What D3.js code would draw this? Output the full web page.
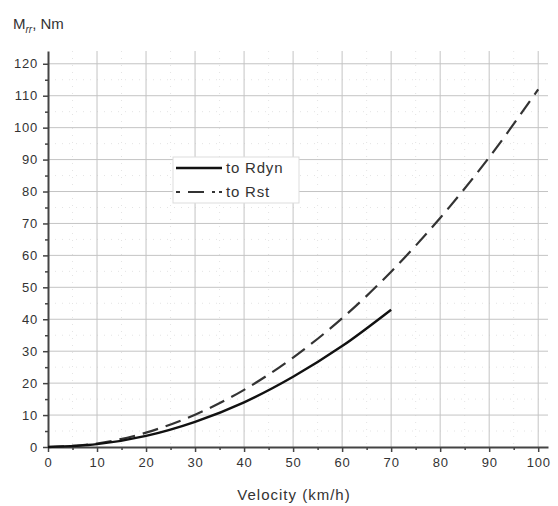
<!DOCTYPE html>
<html>
<head>
<meta charset="utf-8">
<script src="https://cdn.jsdelivr.net/npm/d3@7"></script>
<style>
  body { margin: 0; background: #fff; }
  svg text { font-family: "Liberation Sans", Arial, sans-serif; fill: #333; }
</style>
</head>
<body>
<div id="chart"></div>
<script>
// data
var speedDyn = [0, 10, 20, 30, 40, 50, 60, 70];
var torqueDyn = [0, 0.9, 3.5, 7.9, 14, 22, 31.6, 43];
var speedSt = [0, 10, 20, 30, 40, 50, 60, 70, 80, 90, 100];
var torqueSt = [0, 1.1, 4.5, 10.1, 17.9, 28, 40.3, 54.9, 71.7, 90.7, 112];
var xTicks = [0, 10, 20, 30, 40, 50, 60, 70, 80, 90, 100];
var yTicks = [0, 10, 20, 30, 40, 50, 60, 70, 80, 90, 100, 110, 120];
var seriesNames = ['to Rdyn', 'to Rst'];

var width = 558, height = 506;
var plotLeft = 48, plotRight = 548, plotTop = 51, plotBottom = 447;

var x = d3.scaleLinear().domain([0, 102]).range([plotLeft, plotRight]);
var y = d3.scaleLinear().domain([0, 124]).range([plotBottom, plotTop]);

var svg = d3.select('#chart').append('svg')
  .attr('width', width)
  .attr('height', height);

var minorX = d3.range(5, 102, 10);
var minorY = d3.range(5, 124, 10);

// minor grid (faint dotted)
svg.append('g').selectAll('line').data(minorX).enter().append('line')
  .attr('x1', function (d) { return x(d); }).attr('x2', function (d) { return x(d); })
  .attr('y1', plotTop).attr('y2', plotBottom)
  .attr('stroke', '#e4e4e4').attr('stroke-dasharray', '1,6');
svg.append('g').selectAll('line').data(minorY).enter().append('line')
  .attr('y1', function (d) { return y(d); }).attr('y2', function (d) { return y(d); })
  .attr('x1', plotLeft).attr('x2', plotRight)
  .attr('stroke', '#e4e4e4').attr('stroke-dasharray', '1,6');

// major grid
svg.append('g').selectAll('line').data(xTicks.slice(1)).enter().append('line')
  .attr('x1', function (d) { return x(d); }).attr('x2', function (d) { return x(d); })
  .attr('y1', plotTop).attr('y2', plotBottom)
  .attr('stroke', '#c4c4c4').attr('stroke-width', 1);
svg.append('g').selectAll('line').data(yTicks.slice(1)).enter().append('line')
  .attr('y1', function (d) { return y(d); }).attr('y2', function (d) { return y(d); })
  .attr('x1', plotLeft).attr('x2', plotRight)
  .attr('stroke', '#c4c4c4').attr('stroke-width', 1);

// axes
var xAxis = svg.append('g')
  .attr('transform', 'translate(0,' + plotBottom + ')')
  .call(d3.axisBottom(x).tickValues(xTicks).tickSize(5).tickPadding(6).tickSizeOuter(0));
svg.append('g')
  .attr('transform', 'translate(0,' + plotBottom + ')')
  .call(d3.axisBottom(x).tickValues(minorX).tickSize(3).tickFormat('').tickSizeOuter(0))
  .select('.domain').remove();
var yAxis = svg.append('g')
  .attr('transform', 'translate(' + plotLeft + ',0)')
  .call(d3.axisLeft(y).tickValues(yTicks).tickSize(5).tickPadding(5).tickSizeOuter(0));
svg.append('g')
  .attr('transform', 'translate(' + plotLeft + ',0)')
  .call(d3.axisLeft(y).tickValues(minorY).tickSize(3).tickFormat('').tickSizeOuter(0))
  .select('.domain').remove();

svg.selectAll('.domain').attr('stroke', '#444').attr('stroke-width', 2);
svg.selectAll('.tick line').attr('stroke', '#444').attr('stroke-width', 1.5);
svg.selectAll('.tick text').style('font-size', '13px').style('letter-spacing', '0.8px').attr('fill', '#333');

// curves
var line = d3.line().curve(d3.curveMonotoneX);
svg.append('path')
  .datum(speedSt.map(function (s, i) { return [x(s), y(torqueSt[i])]; }))
  .attr('d', line)
  .attr('fill', 'none').attr('stroke', '#333').attr('stroke-width', 2.2)
  .attr('stroke-dasharray', '16,8');
svg.append('path')
  .datum(speedDyn.map(function (s, i) { return [x(s), y(torqueDyn[i])]; }))
  .attr('d', line)
  .attr('fill', 'none').attr('stroke', '#111').attr('stroke-width', 2.4);

// legend
var lg = svg.append('g').attr('transform', 'translate(173,157)');
lg.append('rect').attr('width', 126).attr('height', 46)
  .attr('fill', '#fff').attr('stroke', '#ddd');
lg.append('line').attr('x1', 3).attr('x2', 49).attr('y1', 11).attr('y2', 11)
  .attr('stroke', '#111').attr('stroke-width', 2.4);
lg.append('line').attr('x1', 3).attr('x2', 49).attr('y1', 35).attr('y2', 35)
  .attr('stroke', '#333').attr('stroke-width', 2.2).attr('stroke-dasharray', '4,8,16,8,3');
lg.selectAll('text').data(seriesNames).enter().append('text')
  .attr('x', 53).attr('y', function (d, i) { return 16 + i * 24; })
  .style('font-size', '15px').style('letter-spacing', '0.8px')
  .text(function (d) { return d; });

// axis titles
var yt = svg.append('text').attr('x', 13).attr('y', 29).style('font-size', '15px');
yt.append('tspan').text('M');
yt.append('tspan').attr('dy', 4).style('font-size', '10px').style('font-style', 'italic').text('rr');
yt.append('tspan').attr('dy', -4).text(', Nm');

svg.append('text').attr('x', 294).attr('y', 500)
  .attr('text-anchor', 'middle').style('font-size', '15px').style('letter-spacing', '1px')
  .text('Velocity (km/h)');
</script>
</body>
</html>
